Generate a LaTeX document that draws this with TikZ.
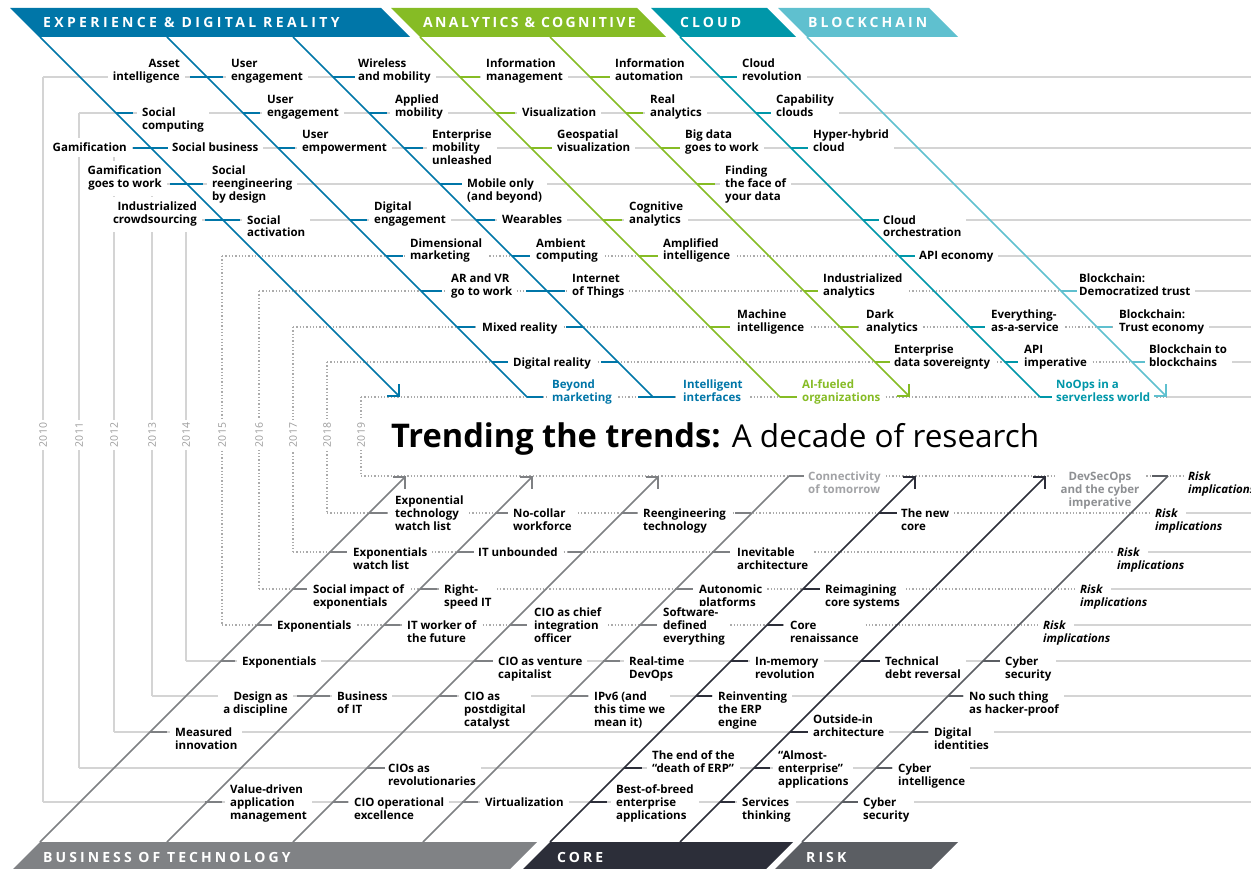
\documentclass[tikz,border=0pt]{standalone}
\usepackage{fontspec}
\setmainfont{Open Sans}
\usetikzlibrary{arrows.meta}

\definecolor{edr}{HTML}{0076A8}
\definecolor{anc}{HTML}{86BC25}
\definecolor{cld}{HTML}{0097A9}
\definecolor{blk}{HTML}{5FC0CF}
\definecolor{bot}{HTML}{808285}
\definecolor{botline}{HTML}{7E8083}
\definecolor{core}{HTML}{2C2E39}
\definecolor{risk}{HTML}{5B5E63}
\definecolor{rowgrey}{HTML}{D4D4D4}
\definecolor{dotgrey}{HTML}{ABABAB}
\definecolor{yeargrey}{HTML}{9D9D9D}
\definecolor{softtext}{HTML}{A2A3A6}
\definecolor{softtextb}{HTML}{8E9093}

\newcommand{\lblfont}{\fontsize{11.5}{13}\selectfont\bfseries}
\newcommand{\bandfont}{\fontsize{14}{16}\selectfont\bfseries\addfontfeature{LetterSpace=22}}

\begin{document}
\begin{tikzpicture}[x=1pt, y=-1pt,
	lbl/.style={font=\lblfont, align=left, anchor=base west, fill=white, inner xsep=5pt, inner ysep=1.5pt},
	lblr/.style={lbl, align=right, anchor=base east, inner ysep=5pt},
	risklbl/.style={font=\lblfont\itshape, align=left, anchor=base west, inner sep=0pt},
	rowline/.style={rowgrey, line width=1.3pt},
	rowdot/.style={dotgrey, line width=1.3pt, dash pattern=on 1.3pt off 2pt},
	yearlbl/.style={font=\fontsize{10.5}{12}\selectfont, text=yeargrey, rotate=90, fill=white, inner sep=3pt},
	diagline/.style={line width=1.7pt},
	tickmark/.style={line width=2.6pt},
	endarrow/.style={-{Straight Barb[angle=90:12pt]}},
	bandtext/.style={font=\bandfont, text=white, anchor=base west, inner sep=0pt}]

	\useasboundingbox (0,0) rectangle (1251,869);

	% year grid
	\foreach \vx/\ry/\by in {43/77/802, 79/113/768, 114/148/732, 152/184/696, 186/220/661} {
		\draw [rowline] (\vx,\ry) -- (1251,\ry);
		\draw [rowline] (\vx,\by) -- (1251,\by);
		\draw [rowline] (\vx,\ry) -- (\vx,\by);
	}
	\foreach \vx/\ry/\by/\sx/\rx in {222/256/625/960/1043, 259/291/589/1130/1080, 293/327/552/1160/1117, 327/362/513/1180/1155} {
		\draw [rowdot] (\vx,\ry) -- (\sx,\ry);
		\draw [rowline] (\sx,\ry) -- (1251,\ry);
		\draw [rowdot] (\vx,\by) -- (\rx-3,\by);
		\draw [rowline] (\rx+31,\by) -- (1251,\by);
		\draw [rowdot] (\vx,\ry) -- (\vx,\by);
	}
	\draw [rowdot] (361,397) -- (1167,397);
	\draw [rowline] (1167,397) -- (1251,397);
	\draw [rowdot] (361,476) -- (1185,476);
	\draw [rowdot] (361,397) -- (361,476);

	\foreach \vx [count=\i from 0] in {43,79,114,152,186,222,259,293,327,361} {
		\pgfmathtruncatemacro\yr{2010+\i}
		\node [yearlbl] (y\yr) at (\vx,435) {\yr};
	}

	% upper trends
	\node [lblr] (assetint) at (185,81) {Asset\\intelligence};
	\node [lbl] (usereng) at (226,81) {User\\engagement};
	\node [lbl] (wireless) at (353,81) {Wireless\\and mobility};
	\node [lbl] (infomgmt) at (481,81) {Information\\management};
	\node [lbl] (infoauto) at (610,81) {Information\\automation};
	\node [lbl] (cloudrev) at (737,81) {Cloud\\revolution};

	\node [lbl] (socialcomp) at (137,130) {Social\\computing};
	\node [lbl] (usereng2) at (262,117) {User\\engagement};
	\node [lbl] (appliedmob) at (390,117) {Applied\\mobility};
	\node [lbl] (visual) at (517,117) {Visualization};
	\node [lbl] (realanal) at (645,117) {Real\\analytics};
	\node [lbl] (capclouds) at (771,117) {Capability\\clouds};

	\node [lblr] (gamif) at (132,152) {Gamification};
	\node [lbl] (socbiz) at (167,152) {Social business};
	\node [lbl] (userempow) at (297,152) {User\\empowerment};
	\node [lbl] (entmob) at (427,165) {Enterprise\\mobility\\unleashed};
	\node [lbl] (geovis) at (552,152) {Geospatial\\visualization};
	\node [lbl] (bigdata) at (680,152) {Big data\\goes to work};
	\node [lbl] (hyperhybrid) at (808,152) {Hyper-hybrid\\cloud};

	\node [lblr] (gamifwork) at (167,188) {Gamification\\goes to work};
	\node [lbl] (socreeng) at (207,201) {Social\\reengineering\\by design};
	\node [lbl] (mobileonly) at (462,201) {Mobile only\\(and beyond)};
	\node [lbl] (findface) at (720,201) {Finding\\the face of\\your data};

	\node [lblr] (indcrowd) at (202,224) {Industrialized\\crowdsourcing};
	\node [lbl] (socact) at (242,237) {Social\\activation};
	\node [lbl] (digeng) at (369,224) {Digital\\engagement};
	\node [lbl] (wearables) at (497,224) {Wearables};
	\node [lbl] (coganal) at (624,224) {Cognitive\\analytics};
	\node [lbl] (cloudorch) at (878,237) {Cloud\\orchestration};

	\node [lbl] (dimmark) at (405,260) {Dimensional\\marketing};
	\node [lbl] (ambient) at (531,260) {Ambient\\computing};
	\node [lbl] (amplint) at (658,260) {Amplified\\intelligence};
	\node [lbl] (apiecon) at (914,260) {API economy};

	\node [lbl] (arvr) at (446,295) {AR and VR\\go to work};
	\node [lbl] (iot) at (567,295) {Internet\\of Things};
	\node [lbl] (indanal) at (818,295) {Industrialized\\analytics};
	\node [lbl] (bcdemo) at (1074,295) {Blockchain:\\Democratized trust};

	\node [lbl] (mixed) at (477,331) {Mixed reality};
	\node [lbl] (machint) at (732,331) {Machine\\intelligence};
	\node [lbl] (darkanal) at (861,331) {Dark\\analytics};
	\node [lbl] (xaas) at (986,331) {Everything-\\as-a-service};
	\node [lbl] (bctrust) at (1114,331) {Blockchain:\\Trust economy};

	\node [lbl] (digreal) at (508,366) {Digital reality};
	\node [lbl] (entdata) at (889,366) {Enterprise\\data sovereignty};
	\node [lbl] (apiimp) at (1019,366) {API\\imperative};
	\node [lbl] (bcbc) at (1144,366) {Blockchain to\\blockchains};

	\node [lbl, text=edr] (beyond) at (547,401) {Beyond\\marketing};
	\node [lbl, text=edr] (intint) at (678,401) {Intelligent\\interfaces};
	\node [lbl, text=anc] (aifueled) at (797,401) {AI-fueled\\organizations};
	\node [lbl, text=cld] (noops) at (1051,401) {NoOps in a\\serverless world};

	% lower trends
	\node [lbl, text=softtext] (connect) at (803,493) {Connectivity\\of tomorrow};
	\node [lbl, text=softtextb, align=center, anchor=base] (devsecops) at (1100,506) {DevSecOps\\and the cyber\\imperative};

	\node [lbl] (exptech) at (390,530) {Exponential\\technology\\watch list};
	\node [lbl] (nocollar) at (508,530) {No-collar\\workforce};
	\node [lbl] (reengtech) at (638,530) {Reengineering\\technology};
	\node [lbl] (newcore) at (896,530) {The new\\core};

	\node [lbl] (expwatch) at (348,569) {Exponentials\\watch list};
	\node [lbl] (itunb) at (473,556) {IT unbounded};
	\node [lbl] (inevarch) at (732,569) {Inevitable\\architecture};

	\node [lbl] (socimp) at (308,606) {Social impact of\\exponentials};
	\node [lbl] (rightspeed) at (439,606) {Right-\\speed IT};
	\node [lbl] (autonomic) at (694,606) {Autonomic\\platforms};
	\node [lbl] (reimag) at (820,606) {Reimagining\\core systems};

	\node [lbl] (exp15) at (272,629) {Exponentials};
	\node [lbl] (itworker) at (402,642) {IT worker of\\the future};
	\node [lbl] (ciochief) at (529,642) {CIO as chief\\integration\\officer};
	\node [lbl] (sdx) at (658,642) {Software-\\defined\\everything};
	\node [lbl] (corerenai) at (785,642) {Core\\renaissance};

	\node [lbl] (exp14) at (237,665) {Exponentials};
	\node [lbl] (ciovc) at (493,678) {CIO as venture\\capitalist};
	\node [lbl] (devops) at (624,678) {Real-time\\DevOps};
	\node [lbl] (inmem) at (750,678) {In-memory\\revolution};
	\node [lbl] (techdebt) at (880,678) {Technical\\debt reversal};
	\node [lbl] (cyber14) at (1000,678) {Cyber\\security};

	\node [lblr] (design) at (293,713) {Design as\\a discipline};
	\node [lbl] (bizit) at (332,713) {Business\\of IT};
	\node [lbl] (ciopost) at (459,726) {CIO as\\postdigital\\catalyst};
	\node [lbl] (ipv6) at (589,726) {IPv6 (and\\this time we\\mean it)};
	\node [lbl] (erp) at (713,726) {Reinventing\\the ERP\\engine};
	\node [lbl] (hackproof) at (964,713) {No such thing\\as hacker-proof};

	\node [lbl] (measured) at (170,749) {Measured\\innovation};
	\node [lbl] (outsidein) at (808,736) {Outside-in\\architecture};
	\node [lbl] (digid) at (929,749) {Digital\\identities};

	\node [lbl] (ciorev) at (383,785) {CIOs as\\revolutionaries};
	\node [lbl] (deatherp) at (647,772) {The end of the\\“death of ERP”};
	\node [lbl] (almost) at (773,785) {“Almost-\\enterprise”\\applications};
	\node [lbl] (cyberint) at (893,785) {Cyber\\intelligence};

	\node [lbl] (valuedriven) at (225,819) {Value-driven\\application\\management};
	\node [lbl] (cioops) at (349,819) {CIO operational\\excellence};
	\node [lbl] (virtual) at (480,806) {Virtualization};
	\node [lbl] (bestbreed) at (611,819) {Best-of-breed\\enterprise\\applications};
	\node [lbl] (services) at (737,819) {Services\\thinking};
	\node [lbl] (cyber10) at (858,819) {Cyber\\security};

	\foreach \rx/\by in {1188/493, 1155/530, 1117/569, 1080/606, 1043/642}
		\node [risklbl] (risk\by) at (\rx,\by) {Risk\\implications};

	% ticks
	\foreach \y/\a/\b in {77/190/223, 77/333/355, 113/116/133, 113/243/260, 113/369/387, 148/133/168, 148/278/295, 148/404/423, 184/170/203, 184/440/462, 220/205/240, 220/350/367, 220/476/495, 256/386/403, 256/512/530, 291/421/442, 291/526/565, 327/457/475, 327/566/583, 362/492/508, 362/601/618, 397/527/543, 397/638/675}
		\draw [tickmark, edr] (\a,\y) -- (\b,\y);
	\foreach \y/\a/\b in {77/460/480, 77/590/610, 113/496/515, 113/626/643, 148/531/552, 148/661/680, 184/697/715, 220/603/622, 256/639/658, 291/804/818, 327/710/730, 327/840/858, 362/875/890, 397/780/797}
		\draw [tickmark, anc] (\a,\y) -- (\b,\y);
	\foreach \y/\a/\b in {77/720/737, 113/756/771, 148/791/808, 220/863/879, 256/899/915, 327/970/985, 362/1005/1018, 397/1040/1052}
		\draw [tickmark, cld] (\a,\y) -- (\b,\y);
	\foreach \y/\a/\b in {291/1061/1077, 327/1097/1112, 362/1132/1145}
		\draw [tickmark, blk] (\a,\y) -- (\b,\y);
	\foreach \y/\a/\b in {476/789/804, 513/369/387, 513/496/508, 513/622/637, 513/735/751, 552/330/347, 552/457/474, 552/568/583, 552/712/730, 589/293/307, 589/420/437, 589/675/693, 625/257/272, 625/384/400, 625/510/527, 625/639/657, 661/221/235, 661/474/493, 661/603/620, 696/297/330, 696/439/457, 696/568/588, 732/150/167, 768/367/385, 802/205/222, 802/333/348, 802/462/478}
		\draw [tickmark, botline] (\a,\y) -- (\b,\y);
	\foreach \y/\a/\b in {513/879/897, 589/803/820, 625/767/783, 661/731/748, 661/861/880, 696/696/712, 732/790/808, 768/624/642, 768/754/770, 802/590/607, 802/720/735}
		\draw [tickmark, core] (\a,\y) -- (\b,\y);
	\foreach \y/\a/\b in {476/1152/1168, 661/983/1000, 696/948/963, 732/912/928, 768/876/892, 802/842/858}
		\draw [tickmark, risk] (\a,\y) -- (\b,\y);

	% diagonals
	\coordinate (b1s) at (40,37);   \coordinate (b1e) at (400,397);
	\coordinate (b2s) at (167,37);  \coordinate (b2e) at (527,397);
	\coordinate (b3s) at (293,37);  \coordinate (b3e) at (653,397);
	\coordinate (g1s) at (420,37);  \coordinate (g1e) at (780,397);
	\coordinate (g2s) at (550,37);  \coordinate (g2e) at (910,397);
	\coordinate (c1s) at (680,37);  \coordinate (c1e) at (1040,397);
	\coordinate (k1s) at (807,37);  \coordinate (k1e) at (1167,397);
	\coordinate (t1s) at (40,842);  \coordinate (t1e) at (406,476);
	\coordinate (t2s) at (167,842); \coordinate (t2e) at (533,476);
	\coordinate (t3s) at (293,842); \coordinate (t3e) at (659,476);
	\coordinate (t4s) at (423,842); \coordinate (t4e) at (789,476);
	\coordinate (o1s) at (550,842); \coordinate (o1e) at (916,476);
	\coordinate (o2s) at (680,842); \coordinate (o2e) at (1046,476);
	\coordinate (r1s) at (802,842); \coordinate (r1e) at (1168,476);

	\draw [diagline, edr, endarrow] (b1s) -- (b1e);
	\draw [diagline, edr] (b2s) -- (b2e);
	\draw [diagline, edr] (b3s) -- (b3e);
	\draw [diagline, anc] (g1s) -- (g1e);
	\draw [diagline, anc, endarrow] (g2s) -- (g2e);
	\draw [diagline, cld] (c1s) -- (c1e);
	\draw [diagline, blk, endarrow] (k1s) -- (k1e);
	\draw [diagline, botline, endarrow] (t1s) -- (t1e);
	\draw [diagline, botline, endarrow] (t2s) -- (t2e);
	\draw [diagline, botline, endarrow] (t3s) -- (t3e);
	\draw [diagline, botline] (t4s) -- (t4e);
	\draw [diagline, core, endarrow] (o1s) -- (o1e);
	\draw [diagline, core, endarrow] (o2s) -- (o2e);
	\draw [diagline, risk] (r1s) -- (r1e);

	% bands
	\fill [edr] (10,8) -- (381,8) -- (410,37) -- (39,37) -- cycle;
	\fill [anc] (391,8) -- (637,8) -- (666,37) -- (420,37) -- cycle;
	\fill [cld] (651,8) -- (767,8) -- (796,37) -- (680,37) -- cycle;
	\fill [blk] (778,8) -- (929,8) -- (958,37) -- (807,37) -- cycle;
	\fill [bot] (40,842) -- (537,842) -- (510,869) -- (13,869) -- cycle;
	\fill [core] (550,842) -- (793,842) -- (766,869) -- (523,869) -- cycle;
	\fill [risk] (802,842) -- (958,842) -- (931,869) -- (775,869) -- cycle;

	\node [bandtext, font=\bandfont\addfontfeature{LetterSpace=24}] (edrband) at (43,28) {EXPERIENCE \& DIGITAL REALITY};
	\node [bandtext, font=\bandfont\addfontfeature{LetterSpace=17}] (ancband) at (423,28) {ANALYTICS \& COGNITIVE};
	\node [bandtext] (cldband) at (680,28) {CLOUD};
	\node [bandtext] (blkband) at (808,28) {BLOCKCHAIN};
	\node [bandtext] (botband) at (43,862) {BUSINESS OF TECHNOLOGY};
	\node [bandtext] (coreband) at (557,862) {CORE};
	\node [bandtext] (riskband) at (806,862) {RISK};

	\node [anchor=base west, inner sep=0pt, font=\fontsize{32.6}{38}\selectfont] (title) at (391,447) {\textbf{Trending the trends:} {\fontsize{31.5}{38}\selectfont A decade of research}};
\end{tikzpicture}
\end{document}
